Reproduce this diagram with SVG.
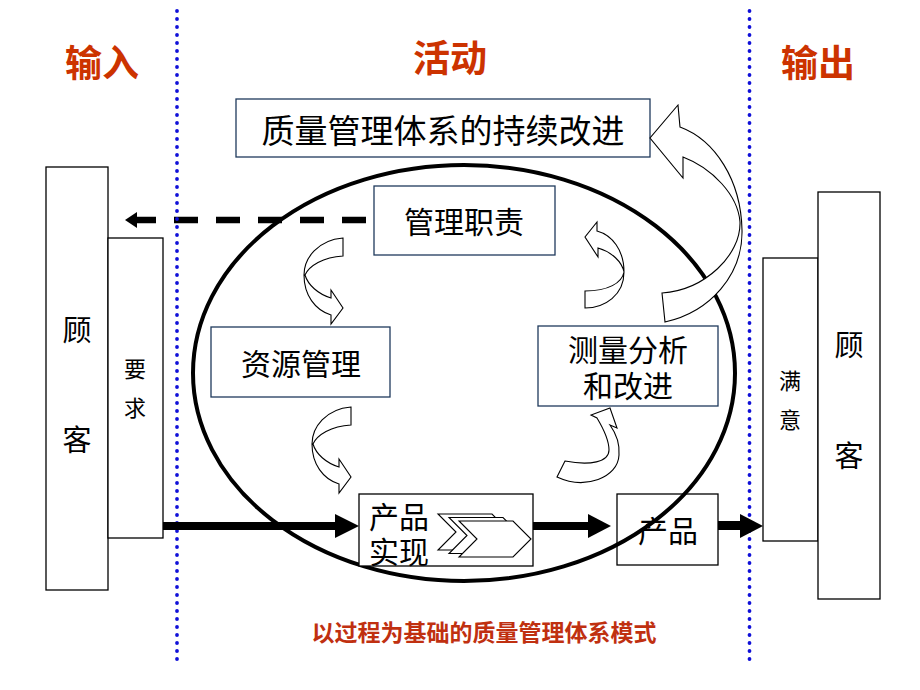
<svg xmlns="http://www.w3.org/2000/svg" width="920" height="690" viewBox="0 0 920 690">
<style>
.t{font-family:"Noto Sans CJK SC","Noto Sans",sans-serif;fill:#000;text-anchor:middle}
.h{font-family:"Noto Sans CJK SC","Noto Sans",sans-serif;fill:#cc3300;font-weight:bold;text-anchor:middle;font-size:37px}
.cap{font-family:"Noto Sans CJK SC","Noto Sans",sans-serif;fill:#c03010;font-weight:bold;text-anchor:middle;font-size:23px}
.bx{fill:#fff;stroke:#1f3a5c;stroke-width:1.3}
.bk{fill:#fff;stroke:#000;stroke-width:1.3}
.ca{fill:#fff;stroke:#000;stroke-width:1.1;stroke-linejoin:miter}
.dot{stroke:#1010d8;stroke-width:3.8;stroke-dasharray:0 8;stroke-linecap:round;fill:none}
</style>
<defs>
<path id="cdown" d="M343,238 L343,256 C323,257 309,266 305,275 C308,285 318,294 331,298 L331,290 L343,308 L331,324 L331,315 C315,310 304,295 304,275 C304,258 318,240 343,238 Z"/>
</defs>
<rect width="920" height="690" fill="#fff"/>

<g id="headings">
<text class="h" x="102" y="77">输入</text>
<text class="h" x="450" y="72">活动</text>
<text class="h" x="818" y="77">输出</text>
</g>

<g id="node-improve">
<rect class="bx" x="236" y="99" width="414" height="58"/>
<text class="t" x="443" y="143" font-size="33">质量管理体系的持续改进</text>
</g>

<g id="node-customer-in">
<rect class="bk" x="46" y="167" width="62" height="423"/>
<text class="t" x="77" y="341" font-size="29">顾</text>
<text class="t" x="77" y="451" font-size="29">客</text>
</g>
<g id="node-requirement">
<rect class="bk" x="108" y="238" width="55" height="300"/>
<text class="t" x="135" y="377" font-size="22">要</text>
<text class="t" x="135" y="416" font-size="22">求</text>
</g>

<g id="node-product">
<rect class="bk" x="617" y="494" width="101" height="71"/>
<text class="t" x="668" y="542" font-size="30">产品</text>
</g>

<g id="cycle">
<ellipse cx="464" cy="373" rx="271" ry="208" fill="none" stroke="#000" stroke-width="4"/>
</g>

<g id="node-responsibility">
<rect class="bx" x="374" y="186" width="181" height="69"/>
<text class="t" x="464" y="233" font-size="30">管理职责</text>
</g>
<g id="node-resource">
<rect class="bx" x="211" y="327" width="179" height="70"/>
<text class="t" x="301" y="375" font-size="30">资源管理</text>
</g>
<g id="node-measure">
<rect class="bx" x="538" y="326" width="180" height="80"/>
<text class="t" x="628" y="361" font-size="30">测量分析</text>
<text class="t" x="628" y="397" font-size="30">和改进</text>
</g>
<g id="node-realization">
<rect class="bk" x="359" y="494" width="174" height="72"/>
<text class="t" x="399" y="528" font-size="30">产品</text>
<text class="t" x="399" y="563" font-size="30">实现</text>
<polygon class="ca" points="438,514 492,514 510,532 492,550 438,550 456,532"/>
<polygon class="ca" points="449,517.5 503,517.5 521,535.5 503,553.5 449,553.5 467,535.5"/>
<polygon class="ca" points="459,521 513,521 531,539 513,557 459,557 477,539"/>
</g>

<g id="node-satisfaction">
<rect class="bk" x="763" y="258" width="55" height="283"/>
<text class="t" x="790" y="389" font-size="22">满</text>
<text class="t" x="790" y="428" font-size="22">意</text>
</g>
<g id="node-customer-out">
<rect class="bk" x="818" y="192" width="62" height="407"/>
<text class="t" x="849" y="356" font-size="29">顾</text>
<text class="t" x="849" y="467" font-size="29">客</text>
</g>

<g id="connectors">
<line x1="366" y1="220" x2="135" y2="220" stroke="#000" stroke-width="6.5" stroke-dasharray="24 18"/>
<polygon points="125,220 137,212 137,228" fill="#000"/>
<use href="#cdown" class="ca"/>
<use href="#cdown" class="ca" transform="translate(8,169)"/>
<path class="ca" d="M585,291 L585,308 C605,308 624,295 624,272 C624,250 612,235 597,231 L597,222 L585,237 L598,257 L598,248 C612,252 622,262 624,272 C622,283 608,291 585,291 Z"/>
<path class="ca" d="M565,461 L557,477 C585,490 618,478 619,455 C620,442 615,432 610,425 L617,428 L610,408 L591,415 L597,418 C603,428 609,440 609,450 C609,462 590,466 565,461 Z"/>
<path class="ca" d="M662,293 L665,322 C710,312 743,275 742,230 C741,180 715,140 680,127 L678,105 L650,138 L683,178 L683,157 C712,168 738,195 740,222 C741,255 705,290 662,293 Z"/>
</g>

<g id="dividers">
<line class="dot" x1="177" y1="11" x2="177" y2="661"/>
<line class="dot" x1="749.5" y1="11" x2="749.5" y2="661"/>
</g>

<g id="flow-arrows">
<rect x="163" y="522" width="174" height="8" fill="#000"/>
<polygon points="359,526 335,514 335,538" fill="#000"/>
<rect x="533" y="522" width="57" height="8" fill="#000"/>
<polygon points="611,526 588,514 588,538" fill="#000"/>
<rect x="718" y="521" width="24" height="9" fill="#000"/>
<polygon points="763,526 740,514 740,538" fill="#000"/>
</g>

<text class="cap" x="484" y="641">以过程为基础的质量管理体系模式</text>
</svg>
